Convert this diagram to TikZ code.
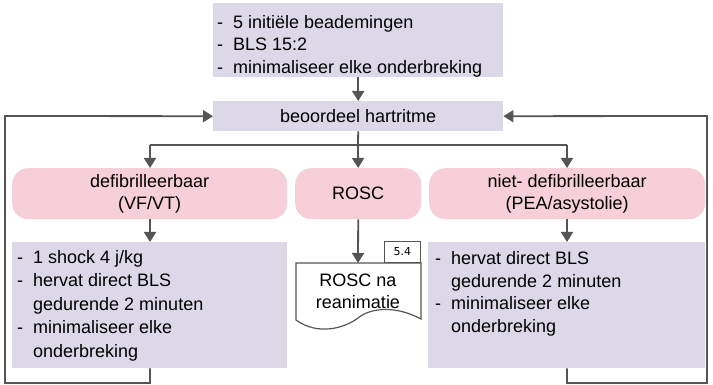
\documentclass[tikz,border=0pt]{standalone}
\usepackage{fontspec}
\setmainfont{Liberation Sans}
\newfontfamily\tabfont{DejaVu Sans}
\usetikzlibrary{arrows.meta}
\definecolor{lav}{HTML}{DCD8E8}
\definecolor{pinkb}{HTML}{F6CFD9}
\definecolor{linec}{HTML}{555555}
\tikzset{
  lavbox/.style={fill=lav, draw=none, anchor=north west, inner sep=0pt},
  pinkbox/.style={fill=pinkb, draw=none, rounded corners=16pt, anchor=north west, inner sep=0pt, minimum height=51pt, align=center, font=\fontsize{18}{22}\selectfont},
  txt/.style={anchor=north west, inner sep=0pt, align=left},
  conn/.style={draw=linec, line width=1.8pt, -{Triangle[length=10pt,width=12pt]}},
  plain/.style={draw=linec, line width=1.8pt},
}
\begin{document}
\begin{tikzpicture}[x=1pt,y=-1pt]
\useasboundingbox (0,0) rectangle (713,385);
% top box
\node[lavbox, minimum width=290pt, minimum height=74pt] (top) at (213,3) {};
\node[txt, font=\fontsize{18}{22.5}\selectfont] (toptxt) at (217,12.5) {\begin{tabular}{@{}l@{\hspace{10pt}}l@{}}-&5 initiële beademingen\\-&BLS 15:2\\-&minimaliseer elke onderbreking\end{tabular}};
% beoordeel
\node[lavbox, minimum width=290pt, minimum height=30pt] (beo) at (213,101) {};
\node[font=\fontsize{18}{20}\selectfont, inner sep=0pt] (beotxt) at (beo.center) {beoordeel hartritme};
% pink boxes
\node[pinkbox, minimum width=275pt] (defi) at (12,168) {defibrilleerbaar\\(VF/VT)};
\node[pinkbox, minimum width=126pt] (rosc) at (295,168) {ROSC};
\node[pinkbox, minimum width=276pt] (niet) at (429,168) {niet- defibrilleerbaar\\(PEA/asystolie)};
% lower boxes
\node[lavbox, minimum width=275pt, minimum height=126pt] (left) at (12,242) {};
\node[txt, font=\fontsize{18}{23.5}\selectfont] (lefttxt) at (17,246.5) {\begin{tabular}{@{}l@{\hspace{10pt}}l@{}}-&1 shock 4 j/kg\\-&hervat direct BLS\\&gedurende 2 minuten\\-&minimaliseer elke\\&onderbreking\end{tabular}};
\node[lavbox, minimum width=277pt, minimum height=126pt] (right) at (428,242) {};
\node[txt, font=\fontsize{18}{22.5}\selectfont] (righttxt) at (435,249) {\begin{tabular}{@{}l@{\hspace{10pt}}l@{}}-&hervat direct BLS\\&gedurende 2 minuten\\-&minimaliseer elke\\&onderbreking\end{tabular}};
% document shape
\draw[draw=linec, line width=1.2pt, fill=white] (296,263) -- (421,263) -- (421,319)
  .. controls (395,305) and (370,308) .. (358,318)
  .. controls (345,328) and (318,336) .. (296,320) -- cycle;
\node[inner sep=0pt, align=center, font=\fontsize{18}{22}\selectfont] (doc) at (358,291) {ROSC na\\reanimatie};
\node[draw=linec, line width=1.2pt, fill=white, anchor=south east, minimum width=36pt, minimum height=21pt, inner sep=0pt, font=\tabfont\fontsize{11}{13}\selectfont] (tab) at (421,263) {5.4};
\coordinate (doctop) at (358,263);
% connectors
\draw[conn] (top.south) -- (beo.north);
\coordinate (br) at (358,145);
\draw[plain] (beo.south) -- (br);
\draw[plain] (150,145) -- (567,145);
\draw[conn] (150,145) -- (defi.north -| 150,0);
\draw[conn] (br) -- (rosc.north);
\draw[conn] (567,145) -- (niet.north -| 567,0);
\draw[conn] (defi.south -| 150,0) -- (left.north -| 150,0);
\draw[conn] (niet.south -| 567,0) -- (right.north -| 567,0);
\draw[conn] (rosc.south) -- (doctop);
\draw[conn] (left.south -| 150,0) -- (150,383) -- (5,383) -- (5,116) -- (beo.west);
\draw[conn] (right.south -| 567,0) -- (567,383) -- (707,383) -- (707,116) -- (beo.east);
\end{tikzpicture}
\end{document}
